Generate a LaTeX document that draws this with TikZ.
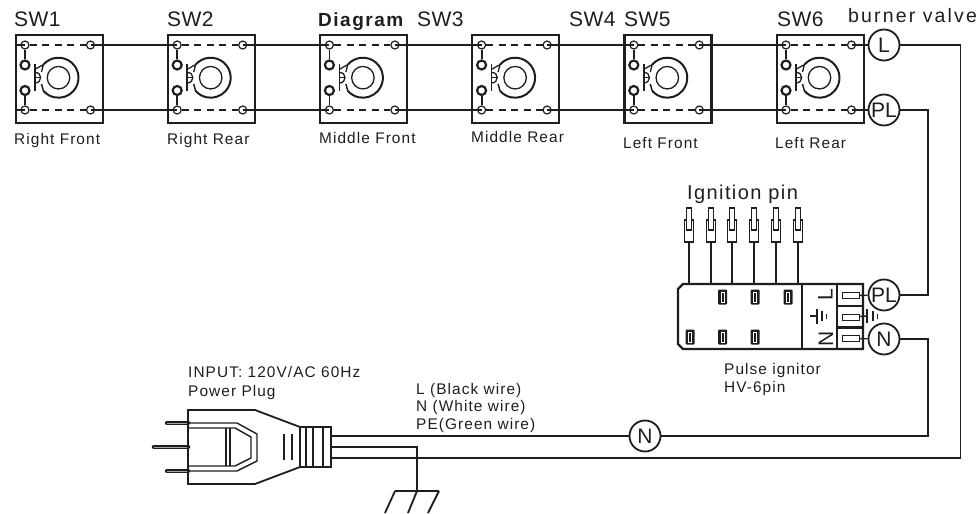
\documentclass[tikz,border=0pt]{standalone}
\usepackage{fontspec}
\setmainfont{Liberation Sans}
\newfontfamily\lsf[LetterSpace=7]{Liberation Sans}
\newfontfamily\lsg[LetterSpace=11]{Liberation Sans}
\newfontfamily\lsb[LetterSpace=2]{Liberation Sans}
\newfontfamily\lsd[LetterSpace=8]{Liberation Sans}
\definecolor{ink}{HTML}{1E1E1E}
\tikzset{
  ln/.style={line width=1.4pt,draw=ink},
  wire/.style={line width=1.8pt,draw=ink},
  boxln/.style={line width=2.2pt,draw=ink},
  ring/.style={circle,draw=ink,line width=1.2pt,minimum size=8pt,inner sep=0pt},
  cring/.style={circle,draw=ink,line width=2.2pt,minimum size=9pt,inner sep=0pt},
  bub/.style={circle,draw=ink,fill=white,line width=1.8pt,minimum size=31pt,inner sep=0pt,text=ink,font=\fontsize{21}{21}\selectfont},
  small/.style={anchor=base west,inner sep=0pt,text=ink,font=\lsf\fontsize{15.4}{16}\selectfont},
  big/.style={anchor=base west,inner sep=0pt,text=ink,font=\lsb\fontsize{21}{21}\selectfont},
  slot/.style={draw=ink,line width=1pt,fill=white,minimum width=17pt,minimum height=6pt,inner sep=0pt},
  pad/.style={fill=ink,minimum width=9pt,minimum height=15pt,inner sep=0pt,rounded corners=1pt},
  padin/.style={draw=white,line width=.6pt,minimum width=2.5pt,minimum height=10pt,inner sep=0pt},
  pinbody/.style={draw=ink,line width=1.2pt,fill=white,minimum width=9pt,minimum height=22pt,inner sep=0pt},
  pintip/.style={draw=ink,line width=1.2pt,fill=white,minimum width=5pt,minimum height=22pt,inner sep=0pt},
}
\begin{document}
\begin{tikzpicture}[x=1pt,y=-1pt]
\useasboundingbox (0,0) rectangle (978,514);
% switches
\foreach \i/\xo in {1/14.5,2/166.7,3/318.9,4/471.1,5/623.3,6/775.5}{
 \begin{scope}[shift={(\xo,0)}]
  \node[boxln,draw,minimum width=87pt,minimum height=87.5pt,inner sep=0pt,anchor=north west] (b\i) at (0,34) {};
  \node[ring] (s\i tl) at (10.5,45) {};
  \node[ring] (s\i tr) at (76,45) {};
  \node[ring] (s\i bl) at (10.5,110) {};
  \node[ring] (s\i br) at (76,110) {};
  \node[cring] (s\i cu) at (10.5,65) {};
  \node[cring] (s\i cl) at (10.5,90.5) {};
  \draw[ln,dash pattern=on 7pt off 5.5pt] (s\i tl.east) -- (s\i tr.west);
  \draw[ln,dash pattern=on 7pt off 5.5pt] (s\i bl.east) -- (s\i br.west);
  \draw[ln,line width=1.8pt] (s\i tl) -- (s\i cu);
  \draw[ln,line width=1.8pt] (s\i bl) -- (s\i cl);
  \node[circle,draw=ink,line width=1.3pt,minimum size=22.5pt,inner sep=0pt] (d\i) at (44,77.7) {};
  \draw[ln,line width=2pt] (28.9,64.6) arc[start angle=-139,end angle=139,radius=20];
  \draw[ln,line width=1.7pt] (20.5,64) -- (20.5,91);
  \draw[ln,line width=1.3pt] (28.9,64.6) -- (21,69) (28.9,64.6) -- (27,72);
  \draw[ln,line width=1.3pt] (20.5,72.5) .. controls (28,72) and (28,83) .. (20.5,83);
  \draw[ln,line width=1.3pt] (20.5,77.7) -- (26,77.7);
  \draw[ln,line width=1.5pt] (28.9,90.8) -- (27,84);
 \end{scope}
}
\coordinate (in1) at (14.5,45);
\coordinate (in2) at (14.5,110);
\draw[wire] (in1) -- (s1tl.center);
\draw[wire] (in2) -- (s1bl.center);
\foreach \a/\c in {1/2,2/3,3/4,4/5,5/6}{
 \draw[wire] (s\a tr.center) -- (s\c tl.center);
 \draw[wire] (s\a br.center) -- (s\c bl.center);
}
% bubbles
\node[bub] (cL) at (884,45) {L};
\node[bub] (cPLa) at (884,110) {PL};
\node[bub] (cPLb) at (884,295) {PL};
\node[bub] (cNa) at (884,339) {N};
\node[bub] (cNb) at (645,436) {N};
\draw[wire] (s6tr.center) -- (cL);
\draw[wire] (s6br.center) -- (cPLa);
\coordinate (jLa) at (960.5,45);
\coordinate (jLb) at (960.5,458);
\coordinate (jPa) at (928,110);
\coordinate (jPb) at (928,295);
\coordinate (jNa) at (928,339);
\coordinate (jNb) at (928,436);
\coordinate (pl1) at (331,436);
\coordinate (pl2) at (331,458);
\coordinate (pl3) at (331,447);
\draw[wire] (cL) -- (jLa) -- (jLb) -- (pl2);
\draw[wire] (cPLa) -- (jPa) -- (jPb) -- (cPLb);
\draw[wire] (cNa) -- (jNa) -- (jNb) -- (cNb);
\draw[wire] (cNb) -- (pl1);
% ignitor
\draw[boxln] (683,284) -- (863,284) -- (863,349) -- (683,349) -- (678,344) -- (678,289) -- cycle;
\draw[boxln] (802,284) -- (802,349) (837,284) -- (837,349);
\draw[boxln] (837,306) -- (863,306) (837,327.5) -- (863,327.5);
\node[slot] (t1) at (850.5,295.5) {};
\node[slot] (t2) at (850.5,317) {};
\node[slot] (t3) at (850.5,338.5) {};
\draw[ln] (t1) -- (cPLb);
\draw[ln] (t3) -- (cNa);
\coordinate (g0) at (867,316);
\draw[ln] (t2) -- (g0);
\draw[ln] (867,309) -- (867,323) (873,311) -- (873,321) (877.5,313.5) -- (877.5,318.5);
\draw[ln] (810,316) -- (817,316);
\draw[ln] (817,308.5) -- (817,323.5) (822,311) -- (822,321) (826.5,313.5) -- (826.5,318.5);
\node[rotate=90,inner sep=0pt,text=ink,font=\fontsize{21}{21}\selectfont] (tL) at (825.5,295) {L};
\node[rotate=90,inner sep=0pt,text=ink,font=\fontsize{21}{21}\selectfont] (tN) at (826,338.5) {N};
\foreach \n/\x/\y in {a/722.7/297,b/755/297,c/788/297,d/690/337,e/722.7/337,f/755/337}{
 \node[pad] (pad\n) at (\x,\y) {};
 \node[padin] (pi\n) at (\x,\y) {};
}
% pins
\foreach \i/\x in {1/689,2/710.7,3/732.3,4/754.3,5/776,6/797.7}{
 \node[pinbody] (pb\i) at (\x,231) {};
 \node[pintip] (pt\i) at (\x,219) {};
 \coordinate (pe\i) at (\x,284);
 \draw[wire] (pb\i) -- (pe\i);
}
% plug
\draw[ln,line width=1.8pt] (188,410) -- (255,410) -- (300,427) -- (300,467) -- (255,484) -- (188,484) -- cycle;
\draw[ln,line width=1.8pt] (300,427) rectangle (331,467);
\draw[ln,line width=1.5pt] (306,427) -- (306,467) (313,427) -- (313,467) (323,427) -- (323,467);
\draw[ln] (188,423) -- (237,423) -- (257,434) -- (257,461) -- (237,471) -- (188,471);
\draw[ln] (188,428) -- (235,428) -- (251,437) -- (251,458) -- (235,466) -- (188,466);
\draw[ln] (226,428) -- (226,466) (230,428) -- (230,466);
\draw[ln] (284,434) -- (284,460) (292,434) -- (292,460);
\draw[line width=4.5pt,line cap=round,draw=ink] (167,423) -- (188,423);
\draw[line width=4.5pt,line cap=round,draw=ink] (154,447) -- (188,447);
\draw[line width=4.5pt,line cap=round,draw=ink] (167,471) -- (188,471);
\draw[line width=1pt,draw=white!60!ink] (167,423) -- (187,423) (154,447) -- (187,447) (167,471) -- (187,471);
% ground
\coordinate (gc) at (417,447);
\coordinate (gb) at (417,491);
\draw[wire] (pl3) -- (gc) -- (gb);
\draw[wire] (395,491) -- (439,491);
\draw[wire] (395,491) -- (385,513) (417,491) -- (408,513) (439,491) -- (428,513);
% texts
\foreach \n/\x/\t in {a/14/SW1,b/167/SW2,c/417/SW3,d/569/SW4,e/624/SW5,f/777/SW6}{
 \node[big] (sw\n) at (\x,27) {\t};
}
\node[big,font=\lsd\bfseries\fontsize{19}{19}\selectfont] (diag) at (318,26) {Diagram};
\node[big,font=\lsg\fontsize{19.5}{20}\selectfont] (bv) at (848,23) {burner valve};
\node[small] (la) at (14,144) {Right Front};
\node[small] (lb) at (167,144) {Right Rear};
\node[small] (lc) at (319,143) {Middle Front};
\node[small] (ld) at (471,142) {Middle Rear};
\node[small] (le) at (623,148) {Left Front};
\node[small] (lf) at (775,148) {Left Rear};
\node[big,font=\lsf\fontsize{20}{20}\selectfont] (ip) at (687,199) {Ignition pin};
\node[small] (pi) at (724,374) {Pulse ignitor};
\node[small] (hv) at (724,392) {HV-6pin};
\node[small] (inp) at (188,377) {INPUT: 120V/AC 60Hz};
\node[small] (pp) at (188,396) {Power Plug};
\node[small] (w1) at (416,394) {L (Black wire)};
\node[small] (w2) at (416,411) {N (White wire)};
\node[small] (w3) at (416,429) {PE(Green wire)};
\end{tikzpicture}
\end{document}
